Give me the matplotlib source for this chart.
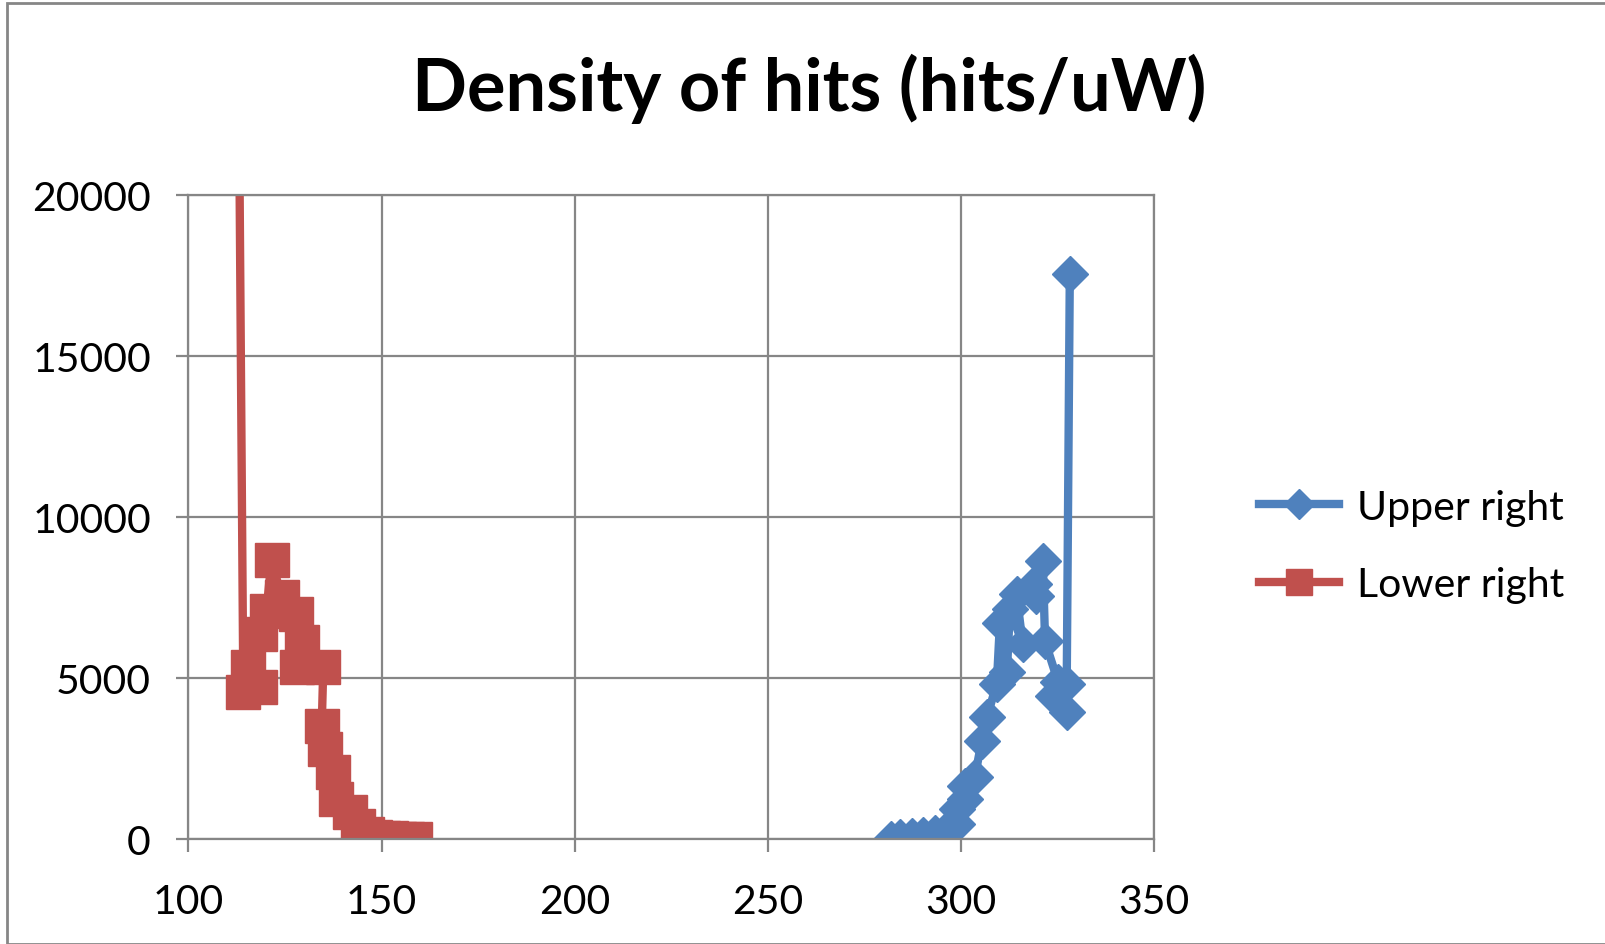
import matplotlib
matplotlib.use("Agg")
import matplotlib.pyplot as plt
from matplotlib.patches import Rectangle

# Upper right series (blue diamonds)
upper_x = [281.8, 284.2, 287.3, 290.3, 293.3, 296.3, 298.9, 298.9, 301.1, 301.1,
           303.6, 305.4, 306.7, 309.3, 310.1, 311.9, 312.7, 316.0, 314.4, 319.4,
           318.9, 321.2, 321.8, 325.2, 323.9, 327.4, 327.4, 328.2]
upper_y = [0, 60, 80, 120, 180, 300, 470, 930, 1240, 1660,
           1920, 3050, 3780, 4811, 6694, 5174, 7138, 6052, 7604, 7551,
           7914, 8619, 6136, 4863, 4448, 3932, 4800, 17531]

# Lower right series (red squares)
lower_x = [113.0, 114.2, 115.5, 118.5, 118.5, 120.2, 121.5, 124.1, 127.8, 128.2,
           129.3, 134.9, 134.5, 135.3, 137.5, 138.2, 141.8, 144.0, 146.1, 148.2,
           150.3, 152.4, 154.5, 156.6, 158.6]
lower_y = [24000, 4553, 5329, 4708, 6362, 7086, 8669, 7501, 6983, 5329,
           6105, 5329, 3516, 2793, 2070, 1241, 828, 414, 155, 70,
           40, 25, 15, 10, 5]

title = "Density of hits (hits/uW)"
labels = ["Upper right", "Lower right"]

blue = "#4F81BD"
red = "#C0504D"
grid_col = "#868686"


def main():
    plt.rcParams['font.family'] = ['Lato', 'DejaVu Sans']
    fig = plt.figure(figsize=(16.06, 9.45), dpi=100)
    ax = fig.add_axes([188.5 / 1606, 1 - 840 / 945, (1154 - 188.5) / 1606, (840 - 195.7) / 945])

    ax.plot(upper_x, upper_y, color=blue, lw=6, marker='D', ms=18.5,
            mec=blue, mfc=blue, solid_joinstyle='round', label=labels[0])
    ax.plot(lower_x, lower_y, color=red, lw=6, marker='s', ms=24,
            mec=red, mfc=red, solid_joinstyle='round', label=labels[1])

    ax.set_xlim(100, 350)
    ax.set_ylim(0, 20000)
    ax.set_xticks([100, 150, 200, 250, 300, 350])
    ax.set_yticks([0, 5000, 10000, 15000, 20000])
    ax.grid(True, color=grid_col, linewidth=1.6)
    ax.set_axisbelow(True)
    for s in ax.spines.values():
        s.set_color(grid_col)
        s.set_linewidth(1.6)
    ax.tick_params(axis='both', direction='out', length=9, width=1.6, color=grid_col,
                   labelsize=29.5)
    ax.tick_params(axis='x', pad=23)
    ax.tick_params(axis='y', pad=18)

    fig.text(809 / 1606, 1 - 89 / 945, title, ha='center', va='center',
             fontsize=52, fontweight='bold')

    ax.legend(loc='center left', bbox_to_anchor=(1222 / 1606, 1 - 547 / 945),
              bbox_transform=fig.transFigure, frameon=False, fontsize=29.5,
              handlelength=1.95, handletextpad=0.45, labelspacing=1.0,
              markerscale=0.8)

    fig.patches.append(Rectangle((7 / 1606, 0), 1 - 7 / 1606, 1 - 4 / 945,
                                 transform=fig.transFigure, fill=False,
                                 edgecolor=grid_col, linewidth=2))

    fig.savefig("out.png", dpi=100)


if __name__ == "__main__":
    main()
